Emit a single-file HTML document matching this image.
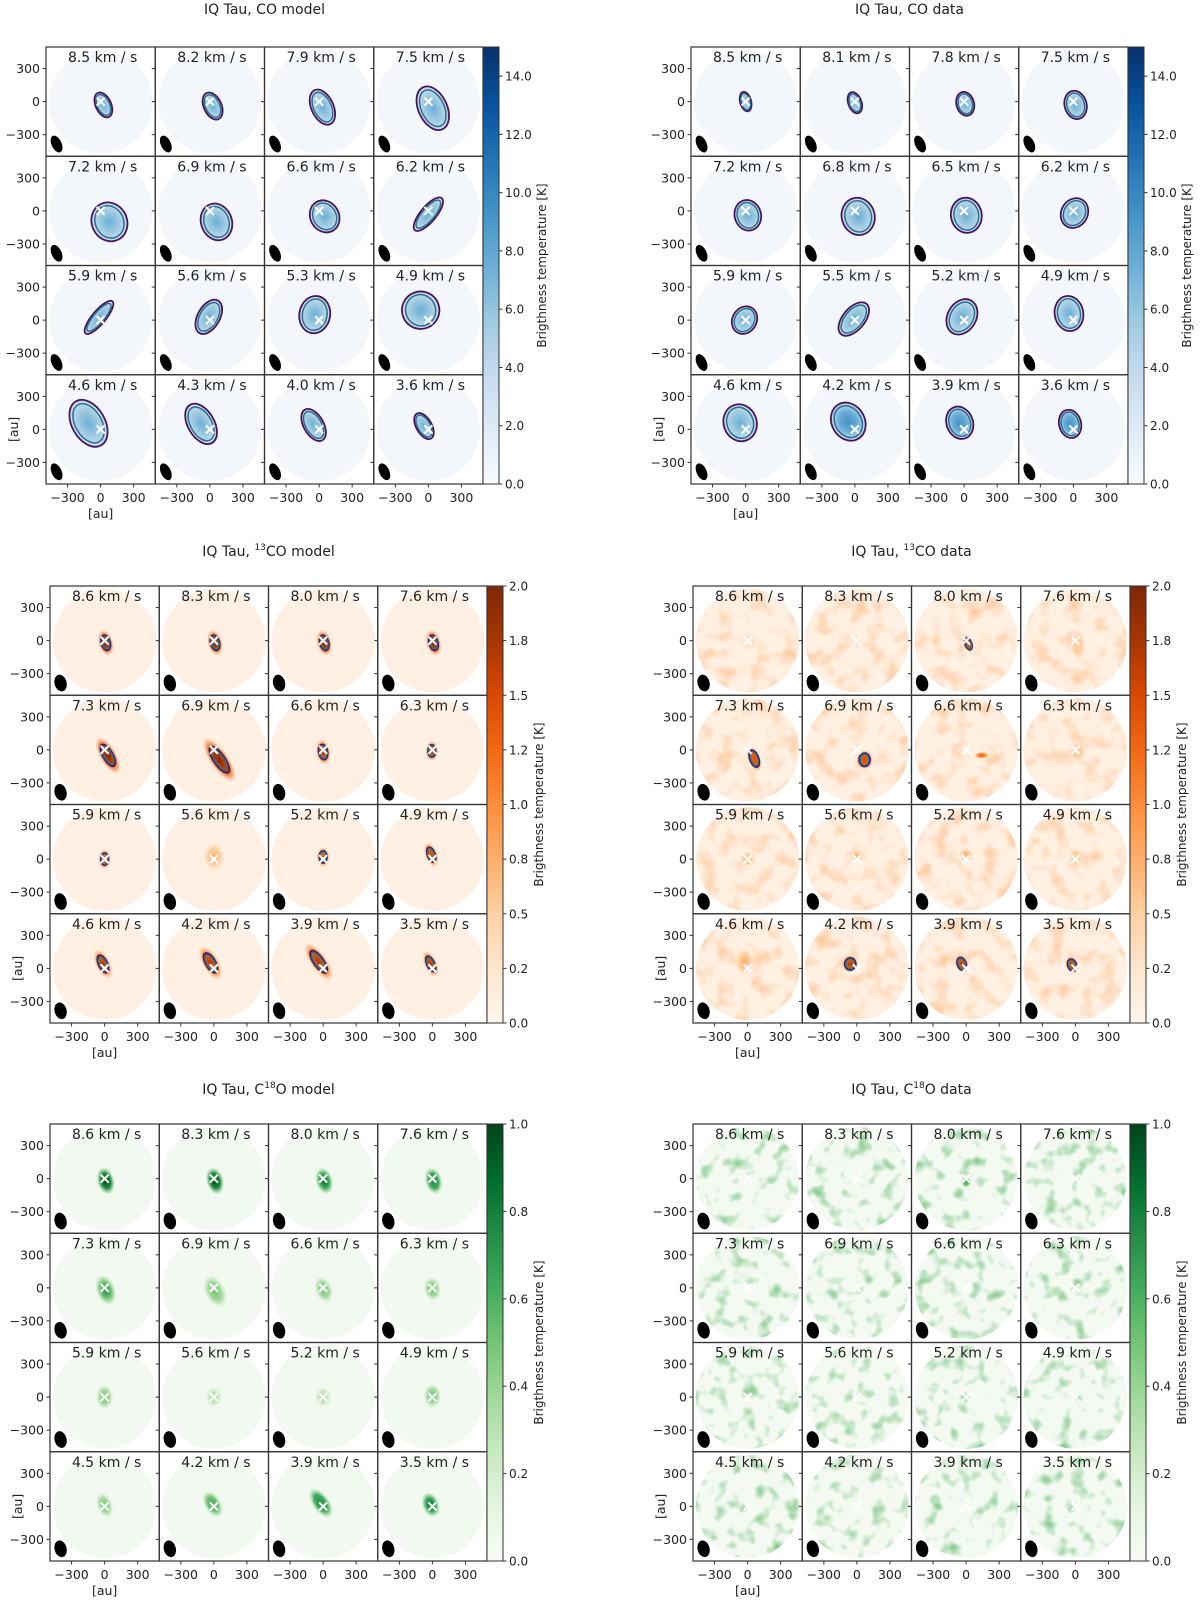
<!DOCTYPE html>
<html><head><meta charset="utf-8"><style>
html,body{margin:0;padding:0;background:#fff;}
svg{display:block;}
text{font-family:"DejaVu Sans","Liberation Sans",sans-serif;fill:#222;}
</style></head><body>
<svg id="fig" width="1200" height="1603" viewBox="0 0 1200 1603" xmlns="http://www.w3.org/2000/svg">
<defs id="defs"></defs>
</svg>
<script>
// ---- data ----
const coModelVel = ["8.5","8.2","7.9","7.5","7.2","6.9","6.6","6.2","5.9","5.6","5.3","4.9","4.6","4.3","4.0","3.6"];
const coDataVel  = ["8.5","8.1","7.8","7.5","7.2","6.8","6.5","6.2","5.9","5.5","5.2","4.9","4.6","4.2","3.9","3.6"];
const co13ModelVel = ["8.6","8.3","8.0","7.6","7.3","6.9","6.6","6.3","5.9","5.6","5.2","4.9","4.6","4.2","3.9","3.5"];
const co13DataVel  = ["8.6","8.3","8.0","7.6","7.3","6.9","6.6","6.3","5.9","5.6","5.2","4.9","4.6","4.2","3.9","3.5"];
const c18oModelVel = ["8.6","8.3","8.0","7.6","7.3","6.9","6.6","6.3","5.9","5.6","5.2","4.9","4.5","4.2","3.9","3.5"];
const c18oDataVel  = ["8.6","8.3","8.0","7.6","7.3","6.9","6.6","6.3","5.9","5.6","5.2","4.9","4.5","4.2","3.9","3.5"];
// blobs: [x_au, y_au, rx_au, ry_au, rot_deg, peak_fraction, contour(1/0)]
const coModelBlobs = [[25,-30,70,120,-25,.5,1],[25,-40,80,130,-25,.5,1],[30,-50,100,170,-25,.5,1],[40,-60,130,210,-25,.5,1],
 [80,-100,160,180,-25,.45,1],[60,-100,140,170,-20,.45,1],[50,-50,130,150,-30,.45,1],[0,-30,70,190,40,.45,1],
 [-15,25,60,190,40,.45,1],[-10,30,100,170,30,.45,1],[-40,50,140,170,10,.45,1],[-70,90,170,170,-20,.45,1],
 [-110,55,150,230,-30,.5,1],[-80,50,120,200,-30,.5,1],[-50,40,90,160,-30,.5,1],[-40,30,70,130,-30,.5,1]];
const coDataBlobs = [[0,0,50,90,-15,.55,1],[0,-10,60,100,-20,.55,1],[10,-20,80,110,-15,.55,1],[20,-30,100,130,-15,.55,1],
 [20,-40,120,140,-15,.55,1],[30,-50,150,170,-15,.55,1],[20,-40,140,160,-10,.5,1],[10,-20,120,140,30,.5,1],
 [-10,0,110,130,30,.5,1],[-10,10,100,180,40,.5,1],[-20,30,130,170,30,.5,1],[-40,60,130,160,-10,.55,1],
 [-50,60,150,170,-20,.55,1],[-60,70,150,180,-30,.6,1],[-40,60,120,150,-20,.6,1],[-30,50,100,130,-15,.6,1]];
const co13ModelBlobs = [[10,-20,40,70,-15,1,1],[10,-20,40,70,-15,1,1],[10,-20,40,70,-15,1,1],[10,-20,40,70,-15,1,1],
 [30,-50,45,110,-30,1,1],[50,-90,50,140,-35,1,1],[0,-20,40,70,-10,.9,1],[-5,-10,35,55,0,.85,1],
 [0,0,35,55,0,.7,1],[0,20,60,80,0,.35,0],[0,20,35,55,0,.7,1],[-10,40,35,70,-20,.8,1],
 [-15,40,40,85,-25,.85,1],[-30,50,45,100,-30,.9,1],[-40,60,45,120,-35,.9,1],[-15,40,35,75,-25,.85,1]];
const co13DataBlobs = [[0,0,40,40,0,.15,0],[0,0,40,40,0,.15,0],[20,-30,30,55,-20,.8,1],[20,-40,50,90,0,.3,0],
 [60,-80,40,80,-20,.8,1],[70,-90,50,60,0,.8,1],[140,-50,45,22,0,.6,0],[20,-20,50,60,0,.3,0],
 [0,0,50,50,0,.35,0],[0,30,40,40,0,.35,0],[0,40,45,45,0,.4,0],[0,20,40,60,0,.25,0],
 [-30,60,60,90,0,.35,0],[-60,40,50,55,0,.85,1],[-40,40,40,60,-20,.85,1],[-30,30,40,55,-20,.85,1]];
const c18oModelBlobs = [[10,-20,50,80,-15,1,0],[10,-20,50,80,-15,1,0],[10,-20,50,80,-15,.9,0],[10,-20,50,80,-15,.8,0],
 [10,-20,55,90,-20,.7,0],[10,-30,60,100,-25,.5,0],[5,-15,50,80,-20,.5,0],[0,-10,50,70,-10,.45,0],
 [0,0,50,70,0,.45,0],[0,0,50,60,0,.4,0],[0,0,50,60,0,.4,0],[0,10,50,70,0,.45,0],
 [0,10,45,75,-20,.55,0],[-10,20,50,85,-30,.65,0],[-20,30,50,100,-35,.75,0],[-15,15,50,75,-20,.9,0]];
const c18oDataBlobs = [[0,0,0,0,0,0,0],[0,0,0,0,0,0,0],[0,-30,35,40,0,.6,0],[0,0,0,0,0,0,0],
 [0,0,0,0,0,0,0],[0,0,0,0,0,0,0],[0,0,0,0,0,0,0],[0,0,0,0,0,0,0],
 [0,0,0,0,0,0,0],[0,0,0,0,0,0,0],[0,0,0,0,0,0,0],[0,0,0,0,0,0,0],
 [0,0,0,0,0,0,0],[0,0,0,0,0,0,0],[0,0,0,0,0,0,0],[0,0,0,0,0,0,0]];
const coCbarTicks = [0,2,4,6,8,10,12,14];
const coCbarLabels = ["0.0","2.0","4.0","6.0","8.0","10.0","12.0","14.0"];
const co13CbarTicks = [0,0.25,0.5,0.75,1.0,1.25,1.5,1.75,2.0];
const co13CbarLabels = ["0.0","0.2","0.5","0.8","1.0","1.2","1.5","1.8","2.0"];
const c18oCbarTicks = [0,0.2,0.4,0.6,0.8,1.0];
const c18oCbarLabels = ["0.0","0.2","0.4","0.6","0.8","1.0"];
const axisTicks = [-300,0,300];
const axisTickLabels = ["\u2212300","0","300"];

// ---- rendering ----
const NS = "http://www.w3.org/2000/svg";
const svg = document.getElementById('fig');
const defs = document.getElementById('defs');
function mk(tag, attrs, parent){const e=document.createElementNS(NS,tag);for(const k in attrs)e.setAttribute(k,attrs[k]);(parent||svg).appendChild(e);return e;}

const cmaps = {
  blue:["#f7fbff","#deebf7","#c6dbef","#9ecae1","#6baed6","#4292c6","#2171b5","#08519c","#08306b"],
  orange:["#fff5eb","#fee6ce","#fdd0a2","#fdae6b","#fd8d3c","#f16913","#d94801","#a63603","#7f2704"],
  green:["#f7fcf5","#e5f5e0","#c7e9c0","#a1d99b","#74c476","#41ab5d","#238b45","#006d2c","#00441b"]
};
function cmapAt(name,f){const c=cmaps[name];f=Math.max(0,Math.min(1,f));return c[Math.round(f*(c.length-1))];}
for(const name in cmaps){
  const g=mk('linearGradient',{id:'cb-'+name,x1:0,y1:1,x2:0,y2:0},defs);
  cmaps[name].forEach((c,i)=>mk('stop',{offset:(i/(cmaps[name].length-1)),'stop-color':c},g));
}
const CELL=109.25, AUPX=CELL/992;
let uid=0;

function panel(p){
  const g=mk('g',{});
  
  
  const W=CELL*4;
  const t=mk('text',{x:p.x0+W/2,y:p.ty,'text-anchor':'middle','font-size':14},g);
  
  
  t.appendChild(document.createTextNode('IQ Tau, '+p.pre));
  if(p.sup){const s=mk('tspan',{'font-size':9,dy:-6},t);s.textContent=p.sup;const s2=mk('tspan',{dy:6},t);s2.textContent=p.post;}
  else t.appendChild(document.createTextNode(p.post));
  for(let i=0;i<16;i++){
    const r=Math.floor(i/4), c=i%4;
    const x=p.x0+c*CELL, y=p.y0+r*CELL, cx=x+CELL/2, cy=y+CELL/2;
    const cg=mk('g',{},g);
    
    
    const cid='clip'+(uid++);
    const cp=mk('clipPath',{id:cid},defs);
    mk('rect',{x:x,y:y,width:CELL,height:CELL},cp);
    const inner=mk('g',{'clip-path':'url(#'+cid+')'},cg);
    const R=470*AUPX;
    mk('circle',{cx:cx,cy:cy,r:R,fill:p.bg},inner);
    if(p.noise){
      const fid='nz'+(uid++);
      const f=mk('filter',{id:fid,x:0,y:0,width:1,height:1,'color-interpolation-filters':'sRGB'},defs);
      mk('feTurbulence',{type:'fractalNoise',baseFrequency:p.noise.freq,numOctaves:2,seed:i*7+p.noise.seed},f);
      mk('feColorMatrix',{type:'matrix',values:'0 0 0 0 '+p.noise.rgb[0]+' 0 0 0 0 '+p.noise.rgb[1]+' 0 0 0 0 '+p.noise.rgb[2]+' '+p.noise.a+' 0 0 0 '+p.noise.b},f);
      const ncp='nc'+(uid++);
      const cc=mk('clipPath',{id:ncp},defs);
      mk('circle',{cx:cx,cy:cy,r:R},cc);
      const nr=mk('rect',{x:cx-R,y:cy-R,width:2*R,height:2*R,filter:'url(#'+fid+')','clip-path':'url(#'+ncp+')'},inner);
      
      
    }
    const b=p.blobs[i];
    if(b[2]>0){
      const bx=cx+b[0]*AUPX, by=cy-b[1]*AUPX, rx=b[2]*AUPX, ry=b[3]*AUPX;
      const tr='rotate('+b[4]+' '+bx+' '+by+')';
      const gid='bg'+(uid++);
      const rg=mk('radialGradient',{id:gid},defs);
      mk('stop',{offset:0,'stop-color':cmapAt(p.cmap,b[5])},rg);
      mk('stop',{offset:0.55,'stop-color':cmapAt(p.cmap,b[5]*0.75)},rg);
      mk('stop',{offset:1,'stop-color':cmapAt(p.cmap,b[5]*0.45),'stop-opacity':p.halo?0:0.9},rg);
      const hs=p.halo||1;
      const e=mk('ellipse',{cx:bx,cy:by,rx:rx*hs,ry:ry*hs,fill:'url(#'+gid+')',transform:tr},inner);
      
      
      if(b[6]){
        mk('ellipse',{cx:bx,cy:by,rx:rx,ry:ry,fill:'none',stroke:'#4a1560','stroke-width':1.8,transform:tr},inner);
        mk('ellipse',{cx:bx,cy:by,rx:rx*0.8,ry:ry*0.84,fill:'none',stroke:'#2c7088','stroke-width':1.5,transform:tr},inner);
      }
    }
    const be=mk('ellipse',{cx:cx-400*AUPX,cy:cy+385*AUPX,rx:p.beam[0],ry:p.beam[1],fill:'#000',transform:'rotate('+p.beam[2]+' '+(cx-400*AUPX)+' '+(cy+385*AUPX)+')'},inner);
    
    
    const s=4;
    mk('path',{d:'M'+(cx-s)+' '+(cy-s)+'L'+(cx+s)+' '+(cy+s)+'M'+(cx+s)+' '+(cy-s)+'L'+(cx-s)+' '+(cy+s),stroke:'#fff','stroke-width':2},inner);
    const lb=mk('text',{x:cx+2,y:y+15,'text-anchor':'middle','font-size':14},cg);
    lb.textContent=p.vel[i]+' km / s';
    
    
    mk('rect',{x:x,y:y,width:CELL,height:CELL,fill:'none',stroke:'#333','stroke-width':1.2},cg);
    axisTicks.forEach((v,k)=>{
      const ty=cy-v*AUPX;
      mk('line',{x1:x-3.5,y1:ty,x2:x,y2:ty,stroke:'#333','stroke-width':1},cg);
      if(c===0){const tl=mk('text',{x:x-6,y:ty+4.5,'text-anchor':'end','font-size':12.5},cg);tl.textContent=axisTickLabels[k];}
    });
    if(r===3){
      axisTicks.forEach((v,k)=>{
        const tx=cx+v*AUPX;
        mk('line',{x1:tx,y1:y+CELL,x2:tx,y2:y+CELL+3.5,stroke:'#333','stroke-width':1},cg);
        const tl=mk('text',{x:tx,y:y+CELL+18,'text-anchor':'middle','font-size':12.5},cg);tl.textContent=axisTickLabels[k];
      });
    }
  }
  const bot=p.y0+4*CELL;
  const xl=mk('text',{x:p.x0+CELL/2,y:bot+34,'text-anchor':'middle','font-size':12.5},g);xl.textContent='[au]';
  
  const yy=p.y0+3.5*CELL;
  const yl=mk('text',{x:p.x0-28,y:yy,'text-anchor':'middle','font-size':12.5,transform:'rotate(-90 '+(p.x0-28)+' '+yy+')'},g);yl.textContent='[au]';
  
  const cbx=p.x0+W, cbw=16;
  const cbg=mk('g',{},g);
  
  
  mk('rect',{x:cbx,y:p.y0,width:cbw,height:W,fill:'url(#cb-'+p.cmap+')',stroke:'#333','stroke-width':1},cbg);
  p.cbTicks.forEach((v,k)=>{
    const ty=p.y0+W-v/p.vmax*W;
    mk('line',{x1:cbx+cbw,y1:ty,x2:cbx+cbw+3.5,y2:ty,stroke:'#333','stroke-width':1},cbg);
    const tl=mk('text',{x:cbx+cbw+6,y:ty+4.5,'font-size':12},cbg);tl.textContent=p.cbLabels[k];
  });
  const lx=cbx+cbw+p.lblOff, ly=p.y0+W/2;
  const cl=mk('text',{x:lx,y:ly,'text-anchor':'middle','font-size':12,transform:'rotate(-90 '+lx+' '+ly+')'},cbg);
  cl.textContent='Brigthness temperature [K]';
  
}

const co={cmap:'blue',vmax:15,cbTicks:coCbarTicks,cbLabels:coCbarLabels,bg:'#f3f7fc',beam:[5,9,-25],lblOff:47};
const o13={cmap:'orange',vmax:2,cbTicks:co13CbarTicks,cbLabels:co13CbarLabels,beam:[6,8.5,-15],lblOff:40};
const g18={cmap:'green',vmax:1,cbTicks:c18oCbarTicks,cbLabels:c18oCbarLabels,beam:[6,8.5,-15],lblOff:40};
panel(Object.assign({},co,{name:'co-model-panel',x0:46,y0:47,ty:14,pre:'CO model',post:'',vel:coModelVel,blobs:coModelBlobs}));
panel(Object.assign({},co,{name:'co-data-panel',x0:691,y0:47,ty:14,pre:'CO data',post:'',vel:coDataVel,blobs:coDataBlobs}));
panel(Object.assign({},o13,{name:'13co-model-panel',x0:50,y0:586,ty:556,pre:'',sup:'13',post:'CO model',vel:co13ModelVel,blobs:co13ModelBlobs,bg:'#fff0e3',halo:1.7}));
panel(Object.assign({},o13,{name:'13co-data-panel',x0:693,y0:586,ty:556,pre:'',sup:'13',post:'CO data',vel:co13DataVel,blobs:co13DataBlobs,bg:'#fff0e2',halo:1.5,noise:{freq:0.06,seed:3,rgb:[0.99,0.72,0.50],a:1.6,b:-0.75}}));
panel(Object.assign({},g18,{name:'c18o-model-panel',x0:50,y0:1124,ty:1094,pre:'C',sup:'18',post:'O model',vel:c18oModelVel,blobs:c18oModelBlobs,bg:'#f2f9f0',halo:1.6}));
panel(Object.assign({},g18,{name:'c18o-data-panel',x0:693,y0:1124,ty:1094,pre:'C',sup:'18',post:'O data',vel:c18oDataVel,blobs:c18oDataBlobs,bg:'#f4faf2',halo:1.4,noise:{freq:0.07,seed:11,rgb:[0.40,0.74,0.44],a:2.2,b:-1.15}}));
</script>
</body></html>
